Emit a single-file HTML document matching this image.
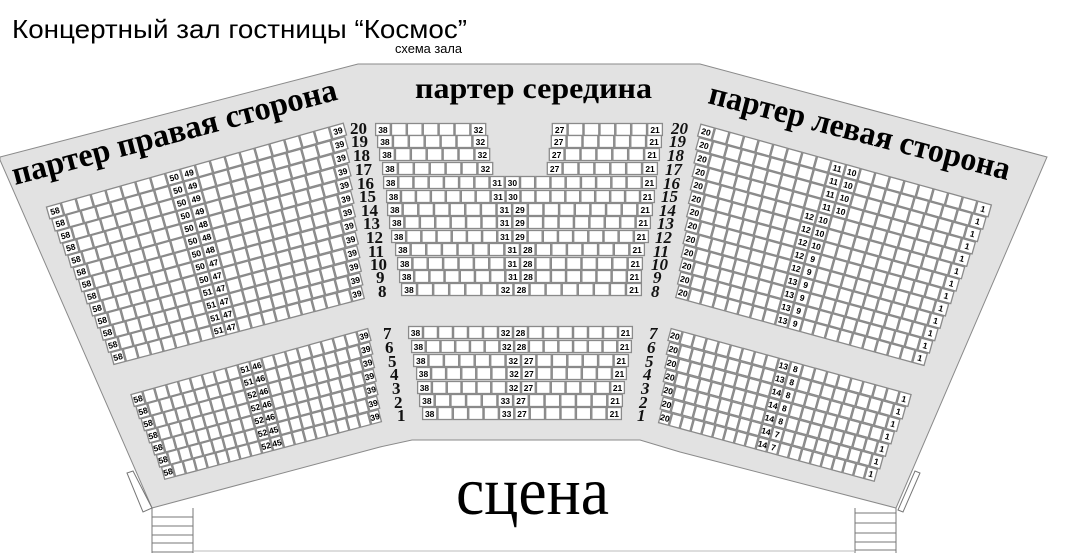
<!DOCTYPE html>
<html><head><meta charset="utf-8"><style>
html,body{margin:0;padding:0;background:#fff;width:1065px;height:553px;overflow:hidden}
svg{display:block}
.s{fill:#fff;stroke:#8a8a8a;stroke-width:1.3}
.l{font-family:"Liberation Sans",sans-serif;font-weight:bold;font-size:8.5px;fill:#000}
.rn{font-family:"Liberation Serif",serif;font-weight:bold;font-size:17px;fill:#111}
.ri{font-style:italic}
</style></head><body>
<svg id="m" width="1065" height="553" viewBox="0 0 1065 553" xmlns="http://www.w3.org/2000/svg">
<polygon points="0,157 358,64 700,64 1047,157 896,508 680,452 640,440 412,440 380,447 152,508 0,160" fill="#e2e2e2" stroke="#8a8a8a" stroke-width="1"/>
<g stroke="#777" stroke-width="1" fill="none">
<polygon points="127,473 133,471 152,508 143,512" fill="#fff"/>
<polygon points="898,510 903,512 920,473 915,471" fill="#fff"/>
<line x1="152" y1="508" x2="152" y2="553"/><line x1="193" y1="508" x2="193" y2="553"/>
<line x1="152" y1="517" x2="193" y2="517"/><line x1="152" y1="526" x2="193" y2="526"/><line x1="152" y1="535" x2="193" y2="535"/><line x1="152" y1="543" x2="193" y2="543"/><line x1="152" y1="552" x2="193" y2="552"/>
<line x1="855" y1="508" x2="855" y2="553"/><line x1="896" y1="508" x2="896" y2="553"/>
<line x1="855" y1="513" x2="896" y2="513"/><line x1="855" y1="523" x2="896" y2="523"/><line x1="855" y1="533" x2="896" y2="533"/><line x1="855" y1="542" x2="896" y2="542"/><line x1="855" y1="550" x2="896" y2="550"/>
<line x1="193" y1="551" x2="855" y2="551" stroke="#bbb"/>
</g>
<text x="12" y="38" font-family="Liberation Sans,sans-serif" font-size="26" textLength="455" lengthAdjust="spacingAndGlyphs">Концертный зал гостницы “Космос”</text>
<text x="395" y="53" font-family="Liberation Sans,sans-serif" font-size="13" textLength="67" lengthAdjust="spacingAndGlyphs">схема зала</text>
<text x="415" y="98" font-family="Liberation Serif,serif" font-weight="bold" font-size="30" textLength="237" lengthAdjust="spacingAndGlyphs">партер середина</text>
<text transform="translate(15,185) rotate(-14.8)" font-family="Liberation Serif,serif" font-weight="bold" font-size="33" textLength="335" lengthAdjust="spacingAndGlyphs">партер правая сторона</text>
<text transform="translate(707,103) rotate(14.4)" font-family="Liberation Serif,serif" font-weight="bold" font-size="33" textLength="310" lengthAdjust="spacingAndGlyphs">партер левая сторона</text>
<text x="456" y="514" font-family="Liberation Serif,serif" font-size="68" textLength="153" lengthAdjust="spacingAndGlyphs">сцена</text>
<g id="seats"></g>
<g class="rn">
<text x="350" y="134">20</text><text x="351" y="147">19</text><text x="353" y="161">18</text><text x="355" y="175">17</text><text x="357" y="189">16</text><text x="359" y="202">15</text><text x="361" y="216">14</text><text x="363" y="229">13</text><text x="366" y="243">12</text><text x="368" y="257">11</text><text x="370" y="270">10</text><text x="376" y="283">9</text><text x="378" y="297">8</text>
<text x="383" y="339">7</text><text x="385" y="353">6</text><text x="388" y="367">5</text><text x="390" y="380">4</text><text x="392" y="394">3</text><text x="394" y="408">2</text><text x="397" y="421">1</text>
</g>
<g class="rn ri">
<text x="671" y="134">20</text><text x="669" y="147">19</text><text x="667" y="161">18</text><text x="665" y="175">17</text><text x="663" y="189">16</text><text x="661" y="202">15</text><text x="659" y="216">14</text><text x="657" y="229">13</text><text x="655" y="243">12</text><text x="653" y="257">11</text><text x="651" y="270">10</text><text x="653" y="283">9</text><text x="651" y="297">8</text>
<text x="649" y="339">7</text><text x="647" y="353">6</text><text x="645" y="367">5</text><text x="643" y="380">4</text><text x="641" y="394">3</text><text x="639" y="408">2</text><text x="637" y="421">1</text>
</g>
</svg>
<script>
(function(){
var NS="http://www.w3.org/2000/svg",G=document.getElementById("seats");
function el(t,a,p){var e=document.createElementNS(NS,t);for(var k in a)e.setAttribute(k,a[k]);(p||G).appendChild(e);return e;}
function lab(g,x,y,s){var t=el("text",{x:x,y:y,"text-anchor":"middle","class":"l"},g);t.textContent=s;}
function srow(c0,c1,n,h,labels){
  var dx=c1[0]-c0[0],dy=c1[1]-c0[1],len=Math.sqrt(dx*dx+dy*dy),w=len/(n-1),a=Math.atan2(dy,dx)*180/Math.PI;
  var g=el("g",{transform:"translate("+c0[0]+","+c0[1]+") rotate("+a+")"});
  for(var i=0;i<n;i++)el("rect",{x:i*w-w/2+0.6,y:-h/2,width:w-1.2,height:h,"class":"s"},g);
  labels.forEach(function(p){lab(g,p[0]*w,3,p[1]);});
}
function side(c0a,c0b,c1a,c1b,rows,h,fn){
  for(var k=0;k<rows;k++){var t=rows>1?k/(rows-1):0;
    var c0=[c0a[0]+(c0b[0]-c0a[0])*t,c0a[1]+(c0b[1]-c0a[1])*t];
    var c1=[c1a[0]+(c1b[0]-c1a[0])*t,c1a[1]+(c1b[1]-c1a[1])*t];
    srow(c0,c1,20,h,fn(k));}
}
var UL=[["50","49"],["50","49"],["50","49"],["50","49"],["50","48"],["50","48"],["50","48"],["50","47"],["50","47"],["51","47"],["51","47"],["51","47"],["51","47"]];
side([55,211],[118,357],[338,131],[357,294],13,12.3,function(k){return [[0,"58"],[8,UL[k][0]],[9,UL[k][1]],[19,"39"]];});
var UR=[["11","10"],["11","10"],["11","10"],["11","10"],["12","10"],["12","10"],["12","10"],["12","9"],["12","9"],["13","9"],["13","9"],["13","9"],["13","9"]];
side([706,132],[683,293],[983,209],[920,358],13,12.3,function(k){var i=k<4?9:8;return [[0,"20"],[i,UR[k][0]],[i+1,UR[k][1]],[19,"1"]];});
var LL=[["51","46"],["51","46"],["52","46"],["52","46"],["52","46"],["52","45"],["52","45"]];
side([138,399],[168,472],[364,336],[375,417],7,12.3,function(k){return [[0,"58"],[9,LL[k][0]],[10,LL[k][1]],[19,"39"]];});
var LR=[["13","8"],["13","8"],["14","8"],["14","8"],["14","8"],["14","7"],["14","7"]];
side([675,336],[665,418],[904,399],[871,474],7,12.3,function(k){return [[0,"20"],[9,LR[k][0]],[10,LR[k][1]],[19,"1"]];});
function crow(x0,x1,y,n,labels){var w=(x1-x0)/n;var g=el("g",{});
  for(var i=0;i<n;i++)el("rect",{x:x0+i*w+0.6,y:y-0.5,width:w-1.2,height:12,"class":"s"},g);
  labels.forEach(function(p){lab(g,x0+p[0]*w+w/2,y+8.8,p[1]);});}
var tops=[124,136,149,163,177,191,204,217,231,244,258,271,284];
var L=[375,377,379,382,383,386,387,389,391,395,397,399,401];
var R=[663,662,660,658,657,655,653,651,649,645,643,642,642];
for(var r=0;r<4;r++){
  var lw=15.9;crow(L[r],L[r]+7*lw,tops[r],7,[[0,"38"],[6,"32"]]);
  crow(R[r]-7*lw,R[r],tops[r],7,[[0,"27"],[6,"21"]]);
}
crow(L[4],R[4],tops[4],18,[[0,"38"],[7,"31"],[8,"30"],[17,"21"]]);
crow(L[5],R[5],tops[5],18,[[0,"38"],[7,"31"],[8,"30"],[17,"21"]]);
for(r=6;r<9;r++)crow(L[r],R[r],tops[r],17,[[0,"38"],[7,"31"],[8,"29"],[16,"21"]]);
for(r=9;r<12;r++)crow(L[r],R[r],tops[r],16,[[0,"38"],[7,"31"],[8,"28"],[15,"21"]]);
crow(L[12],R[12],tops[12],15,[[0,"38"],[6,"32"],[7,"28"],[14,"21"]]);
var t2=[327,341,355,368,382,395,408],L2=[408,411,413,416,417,419,422],R2=[633,632,629,627,625,623,622];
for(r=0;r<2;r++)crow(L2[r],R2[r],t2[r],15,[[0,"38"],[6,"32"],[7,"28"],[14,"21"]]);
for(r=2;r<5;r++)crow(L2[r],R2[r],t2[r],14,[[0,"38"],[6,"32"],[7,"27"],[13,"21"]]);
for(r=5;r<7;r++)crow(L2[r],R2[r],t2[r],13,[[0,"38"],[5,"33"],[6,"27"],[12,"21"]]);
})();
</script>
</body></html>
